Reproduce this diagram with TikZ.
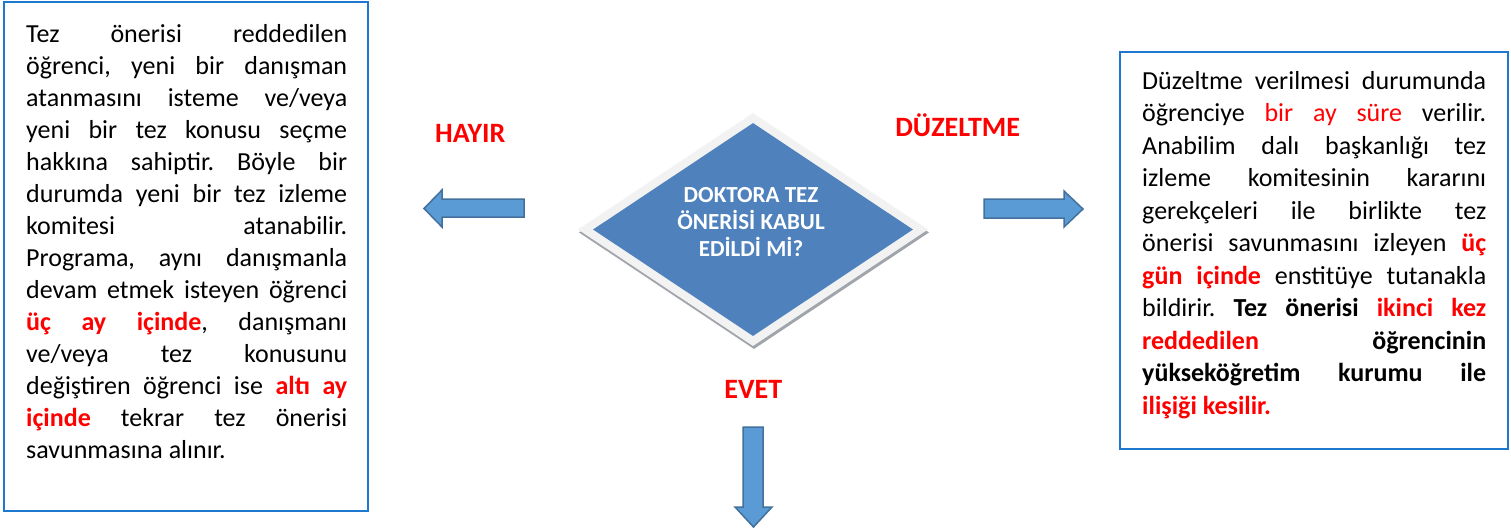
\documentclass[tikz,border=0pt]{standalone}
\usepackage{fontspec}
\setmainfont{Carlito}
\usetikzlibrary{shapes.geometric}
\definecolor{boxblue}{RGB}{30,120,205}
\definecolor{dblue}{RGB}{79,129,189}
\definecolor{arrfill}{RGB}{91,155,213}
\definecolor{arrline}{RGB}{65,113,156}
\definecolor{framegrey}{RGB}{242,242,242}
\definecolor{shadowgrey}{RGB}{160,165,172}
\definecolor{txtred}{RGB}{255,0,0}
\newcommand{\rb}[1]{\textcolor{txtred}{\textbf{#1}}}
\newcommand{\jl}[1]{\makebox[\linewidth][s]{#1}}
\frenchspacing
\begin{document}
\begin{tikzpicture}[x=1pt,y=-1pt,
  infobox/.style={draw=boxblue, line width=2pt, inner sep=0},
  lbl/.style={text=txtred, font=\bfseries\fontsize{28}{32}\selectfont, inner sep=0, anchor=base},
  barrow/.style={fill=arrfill, draw=arrline, line width=1.5pt, line join=miter},
  dia/.style={diamond, aspect=1.5, inner sep=0}]
\useasboundingbox (0,0) rectangle (1511,531);
\fill[white] (0,0) rectangle (1511,531);
% boxes
\node[infobox, minimum width=364pt, minimum height=509.5pt] (lbox) at (186,256.25) {};
\node[infobox, minimum width=388pt, minimum height=396.5pt] (rbox) at (1314,250.25) {};
% left text
\node[anchor=base west, inner sep=0] (ltext) at (26,42.7) {\parbox[t]{321pt}{\fontsize{26}{32}\selectfont
\jl{Tez önerisi reddedilen}\\
\jl{öğrenci, yeni bir danışman}\\
\jl{atanmasını isteme ve/veya}\\
\jl{yeni bir tez konusu seçme}\\
\jl{hakkına sahiptir. Böyle bir}\\
\jl{durumda yeni bir tez izleme}\\
\jl{komitesi atanabilir.}\\
\jl{Programa, aynı danışmanla}\\
\jl{devam etmek isteyen öğrenci}\\
\jl{\rb{üç} \rb{ay} \rb{içinde}, danışmanı}\\
\jl{ve/veya tez konusunu}\\
\jl{değiştiren öğrenci ise \rb{altı} \rb{ay}}\\
\jl{\rb{içinde} tekrar tez önerisi}\\
savunmasına alınır.}};
% right text
\node[anchor=base west, inner sep=0] (rtext) at (1142,89.3) {\parbox[t]{344pt}{\fontsize{26}{32.5}\selectfont
\jl{Düzeltme verilmesi durumunda}\\
\jl{öğrenciye \textcolor{txtred}{bir} \textcolor{txtred}{ay} \textcolor{txtred}{süre} verilir.}\\
\jl{Anabilim dalı başkanlığı tez}\\
\jl{izleme komitesinin kararını}\\
\jl{gerekçeleri ile birlikte tez}\\
\jl{önerisi savunmasını izleyen \rb{üç}}\\
\jl{\rb{gün} \rb{içinde} enstitüye tutanakla}\\
\jl{bildirir. \textbf{Tez} \textbf{önerisi} \rb{ikinci} \rb{kez}}\\
\jl{\rb{reddedilen} \textbf{öğrencinin}}\\
\jl{\textbf{yükseköğretim} \textbf{kurumu} \textbf{ile}}\\
\rb{ilişiği kesilir.}}};
% diamond
\node[dia, fill=shadowgrey, minimum width=350pt, minimum height=233pt] (qshadow) at (754,232.5) {};
\node[dia, fill=framegrey, minimum width=350pt, minimum height=233pt] (qframe) at (753,229.5) {};
\node[dia, fill=dblue, minimum width=320pt, minimum height=213pt] (q) at (753,229.5) {};
\node[text=white, font=\bfseries\fontsize{23}{27.2}\selectfont, align=center, inner sep=0, anchor=base] (qt) at (751,256.7) {DOKTORA TEZ\\ÖNERİSİ KABUL\\EDİLDİ Mİ?};
% labels
\node[lbl] (hayir) at (470.3,142.3) {HAYIR};
\node[lbl] (duz) at (957.7,136) {DÜZELTME};
\node[lbl] (evet) at (753.3,398.3) {EVET};
% block arrows
\draw[barrow] (524,199) -- (442,199) -- (442,190) -- (424,208.5) -- (442,227) -- (442,217) -- (524,217) -- cycle;
\draw[barrow] (984,199) -- (1064,199) -- (1064,191) -- (1083,209) -- (1064,227) -- (1064,218) -- (984,218) -- cycle;
\draw[barrow] (743,427) -- (763,427) -- (763,507) -- (772,507) -- (753.5,527) -- (735,507) -- (743,507) -- cycle;
\end{tikzpicture}
\end{document}
